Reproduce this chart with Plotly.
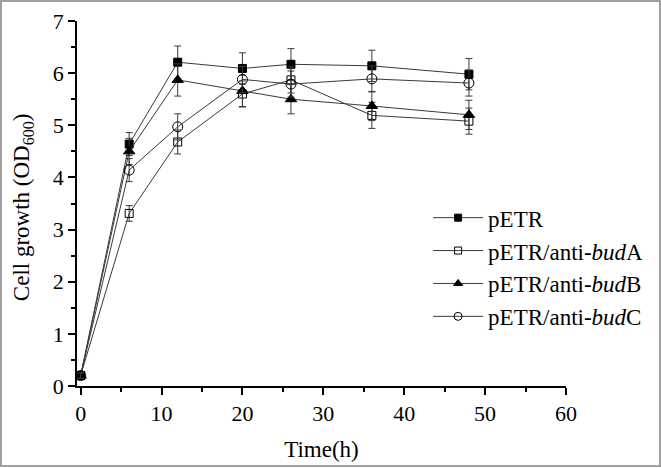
import plotly.graph_objects as go

time_h = [0, 6, 12, 20, 26, 36, 48]

petr = [0.2, 4.64, 6.21, 6.09, 6.17, 6.14, 5.98]
petr_err = [0.05, 0.22, 0.31, 0.30, 0.30, 0.30, 0.30]

bud_a = [0.2, 3.31, 4.68, 5.60, 5.87, 5.19, 5.08]
bud_a_err = [0.05, 0.15, 0.23, 0.25, 0.25, 0.25, 0.25]

bud_b = [0.2, 4.50, 5.87, 5.66, 5.50, 5.37, 5.20]
bud_b_err = [0.05, 0.25, 0.31, 0.30, 0.28, 0.28, 0.28]

bud_c = [0.2, 4.14, 4.97, 5.88, 5.79, 5.89, 5.81]
bud_c_err = [0.05, 0.22, 0.25, 0.25, 0.25, 0.25, 0.25]

names = ["pETR", "pETR/anti-<i>bud</i>A", "pETR/anti-<i>bud</i>B", "pETR/anti-<i>bud</i>C"]
series = [petr, bud_a, bud_b, bud_c]
errors = [petr_err, bud_a_err, bud_b_err, bud_c_err]
symbols = ["square", "square-open", "triangle-up", "circle-open"]
sizes = [8, 8, 10, 10]
legend_sizes = [7, 7, 8, 8]

FONT = "Liberation Serif, Times New Roman, serif"
FS = 22
LFS = 23

fig = go.Figure()
for name, y, e, sym, sz, lsz in zip(names, series, errors, symbols, sizes, legend_sizes):
    fig.add_trace(go.Scatter(
        x=time_h, y=y, name=name, mode="lines+markers", showlegend=False,
        line=dict(color="#3a3a3a", width=1),
        marker=dict(symbol=sym, size=sz, color="black",
                    line=dict(color="black", width=1)),
        error_y=dict(type="data", array=e, visible=True, color="#3a3a3a",
                     thickness=1, width=3.5),
    ))
    # legend entry with the smaller legend glyph of the reference
    fig.add_trace(go.Scatter(
        x=[None], y=[None], name=name, mode="lines+markers",
        line=dict(color="#3a3a3a", width=1),
        marker=dict(symbol=sym, size=lsz, color="black",
                    line=dict(color="black", width=1)),
    ))

fig.update_layout(
    width=661, height=468,
    margin=dict(l=77, r=95, t=21, b=82),
    paper_bgcolor="white", plot_bgcolor="white",
    font=dict(family=FONT, size=FS, color="black"),
    showlegend=True,
    legend=dict(x=0.718, y=0.52, xanchor="left", yanchor="top",
                bgcolor="rgba(0,0,0,0)", font=dict(size=LFS, family=FONT),
                tracegroupgap=0, itemwidth=50),
    xaxis=dict(range=[-0.45, 60], tickvals=[0, 10, 20, 30, 40, 50, 60],
               automargin=False,
               showgrid=False, zeroline=False, showline=True,
               linecolor="black", linewidth=1.5, ticks="outside",
               ticklen=7, tickwidth=1.5, tickcolor="black",
               minor=dict(dtick=5, ticks="outside", ticklen=4, tickwidth=1.5, tickcolor="black"),
               title=dict(text="Time(h)", font=dict(size=23, family=FONT), standoff=16),
               tickfont=dict(size=FS, family=FONT)),
    yaxis=dict(range=[0, 7], dtick=1, showgrid=False, zeroline=False,
               automargin=False,
               showline=True, linecolor="black", linewidth=1.5,
               ticks="outside", ticklen=7, tickwidth=1.5, tickcolor="black",
               minor=dict(dtick=0.5, ticks="outside", ticklen=4, tickwidth=1.5, tickcolor="black"),
               tickfont=dict(size=FS, family=FONT)),
    annotations=[dict(text="Cell growth (OD<sub>600</sub>)", textangle=-90,
                      xref="paper", yref="paper", x=-54/489, y=0.49,
                      xanchor="center", yanchor="middle", showarrow=False,
                      font=dict(size=23, family=FONT))],
    shapes=[dict(type="rect", xref="paper", yref="paper",
                 x0=-76/489, x1=583/489, y0=-80/365, y1=385/365,
                 line=dict(color="#a0a0a0", width=2), fillcolor="rgba(0,0,0,0)",
                 layer="below")],
)

fig.write_html("out.html", config={"displayModeBar": False},
               post_script="document.body.style.margin='0';document.body.style.overflow='hidden';")
